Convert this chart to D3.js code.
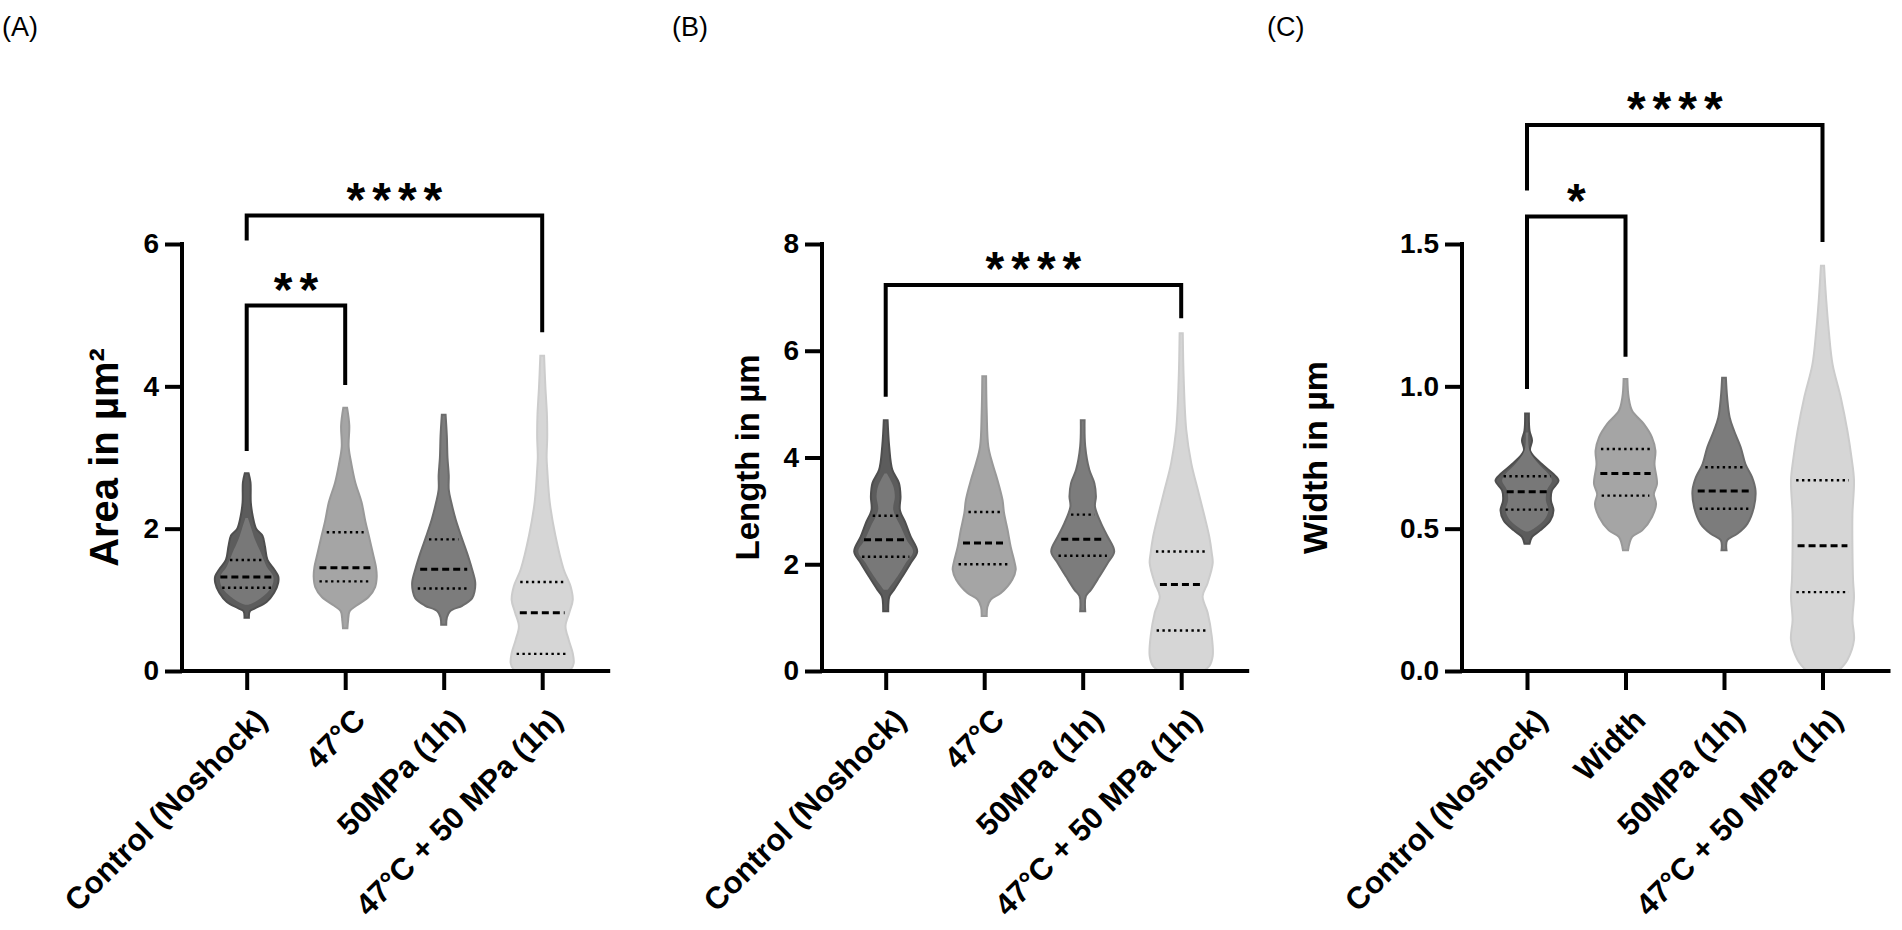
<!DOCTYPE html>
<html>
<head>
<meta charset="utf-8">
<script src="https://cdn.jsdelivr.net/npm/d3@7"></script>
<style>
  html, body { margin: 0; padding: 0; background: #fff; }
  svg { display: block; }
  text { font-family: "Liberation Sans", Arial, Helvetica, sans-serif; }
</style>
</head>
<body>
<svg id="chart" width="1902" height="930"></svg>
<script>
// ---------------- DATA ----------------
const panelLabels = ["(A)", "(B)", "(C)"];
const yTitles = ["Area in µm²", "Length in µm", "Width in µm"];

const categoriesA = ["Control (Noshock)", "47°C", "50MPa (1h)", "47°C + 50 MPa (1h)"];
const categoriesB = ["Control (Noshock)", "47°C", "50MPa (1h)", "47°C + 50 MPa (1h)"];
const categoriesC = ["Control (Noshock)", "Width", "50MPa (1h)", "47°C + 50 MPa (1h)"];

const yDomainA = [0, 6];
const yDomainB = [0, 8];
const yDomainC = [0, 1.5];
const yTicksA = [0, 2, 4, 6];
const yTicksB = [0, 2, 4, 6, 8];
const yTicksC = [0, 0.5, 1.0, 1.5];
const yTickLabelsA = ["0", "2", "4", "6"];
const yTickLabelsB = ["0", "2", "4", "6", "8"];
const yTickLabelsC = ["0.0", "0.5", "1.0", "1.5"];

// quartiles per group: [Q1, median, Q3]
const quartilesA = [[1.17, 1.32, 1.56], [1.26, 1.45, 1.95], [1.16, 1.43, 1.85], [0.24, 0.82, 1.25]];
const quartilesB = [[2.14, 2.46, 2.91], [2.00, 2.40, 2.98], [2.16, 2.47, 2.93], [0.76, 1.62, 2.24]];
const quartilesC = [[0.567, 0.630, 0.684], [0.616, 0.694, 0.780], [0.570, 0.632, 0.716], [0.277, 0.440, 0.670]];

// violin density profiles: [value, relative density (max = 1)]
const profilesA = [
  [[2.78,0.06],[2.65,0.12],[2.37,0.13],[2.18,0.19],[2.0,0.3],[1.9,0.5],[1.75,0.58],[1.56,0.66],[1.43,0.87],[1.33,1.0],[1.24,1.0],[1.1,0.87],[0.97,0.63],[0.88,0.26],[0.84,0.1],[0.75,0.07]],
  [[3.70,0.06],[3.45,0.13],[3.15,0.11],[2.9,0.2],[2.65,0.32],[2.37,0.52],[2.1,0.64],[1.9,0.75],[1.65,0.88],[1.45,0.98],[1.32,1.0],[1.18,0.95],[1.04,0.74],[0.92,0.36],[0.84,0.14],[0.7,0.09],[0.6,0.07]],
  [[3.60,0.06],[3.3,0.1],[3.0,0.12],[2.75,0.16],[2.55,0.16],[2.37,0.24],[2.13,0.38],[1.9,0.55],[1.66,0.74],[1.43,0.9],[1.25,1.0],[1.12,0.98],[1.02,0.9],[0.92,0.6],[0.84,0.2],[0.75,0.1],[0.65,0.08]],
  [[4.43,0.06],[4.0,0.1],[3.6,0.15],[3.3,0.16],[3.0,0.14],[2.83,0.16],[2.37,0.24],[1.9,0.42],[1.43,0.68],[1.19,0.9],[1.0,0.97],[0.82,0.86],[0.63,0.74],[0.44,0.84],[0.25,0.97],[0.11,1.0],[0.03,0.92],[0,0.8]]
];
const profilesB = [
  [[4.70,0.06],[4.21,0.11],[3.77,0.21],[3.52,0.42],[3.27,0.47],[3.02,0.45],[2.77,0.63],[2.52,0.79],[2.24,1.0],[2.02,0.79],[1.77,0.53],[1.52,0.26],[1.40,0.12],[1.12,0.08]],
  [[5.52,0.06],[4.84,0.08],[4.21,0.13],[3.89,0.26],[3.58,0.42],[3.21,0.58],[2.96,0.63],[2.65,0.74],[2.33,0.84],[2.02,0.97],[1.9,1.0],[1.71,0.89],[1.46,0.53],[1.34,0.21],[1.2,0.1],[1.03,0.08]],
  [[4.70,0.06],[4.21,0.08],[3.77,0.21],[3.52,0.37],[3.27,0.42],[3.08,0.39],[2.77,0.58],[2.52,0.79],[2.24,1.0],[2.02,0.79],[1.77,0.53],[1.52,0.26],[1.40,0.1],[1.12,0.08]],
  [[6.33,0.05],[5.46,0.08],[4.52,0.16],[3.89,0.32],[3.39,0.53],[2.9,0.74],[2.52,0.89],[2.21,0.97],[2.02,1.0],[1.65,0.84],[1.40,0.68],[1.09,0.84],[0.65,0.97],[0.28,1.0],[0.09,0.89],[0,0.7]]
];
const profilesC = [
  [[0.905,0.06],[0.844,0.08],[0.81,0.16],[0.774,0.1],[0.727,0.47],[0.692,0.84],[0.669,1.0],[0.634,0.79],[0.599,0.76],[0.564,0.84],[0.529,0.74],[0.494,0.42],[0.471,0.16],[0.447,0.08]],
  [[1.026,0.06],[0.961,0.1],[0.914,0.21],[0.868,0.58],[0.821,0.84],[0.774,0.95],[0.727,0.92],[0.657,1.0],[0.622,0.9],[0.587,0.97],[0.541,0.84],[0.494,0.53],[0.471,0.21],[0.424,0.08]],
  [[1.03,0.06],[0.961,0.1],[0.891,0.18],[0.844,0.32],[0.786,0.53],[0.727,0.68],[0.681,0.89],[0.634,1.0],[0.576,0.95],[0.517,0.74],[0.482,0.42],[0.459,0.1],[0.424,0.08]],
  [[1.424,0.05],[1.3,0.12],[1.194,0.2],[1.077,0.32],[0.961,0.58],[0.844,0.79],[0.75,0.92],[0.669,1.0],[0.552,0.95],[0.436,0.95],[0.319,0.97],[0.261,1.0],[0.179,0.95],[0.109,1.0],[0.039,0.79],[0,0.5]]
];
// lighter inner core of the control violins
const innerA = [[2.15,0.04],[2.0,0.15],[1.85,0.26],[1.66,0.45],[1.47,0.63],[1.33,0.84],[1.21,0.82],[1.07,0.58],[0.97,0.26],[0.93,0.05]];
const innerB = [[3.7,0.04],[3.46,0.24],[3.27,0.29],[3.02,0.24],[2.71,0.47],[2.46,0.66],[2.24,0.87],[2.02,0.63],[1.77,0.37],[1.52,0.06]];
const innerC = [[0.838,0.04],[0.774,0.08],[0.727,0.37],[0.692,0.68],[0.669,0.79],[0.634,0.63],[0.599,0.6],[0.564,0.68],[0.529,0.53],[0.5,0.21],[0.49,0.04]];

// significance brackets: groups compared, bar level, leg ends (data units), label
const bracketsA = [
  { from: 0, to: 3, level: 6.40, leftEnd: 6.05, rightEnd: 4.76, label: "****" },
  { from: 0, to: 1, level: 5.135, leftEnd: 3.09, rightEnd: 4.02, label: "**" }
];
const bracketsB = [
  { from: 0, to: 3, level: 7.23, leftEnd: 5.14, rightEnd: 6.61, label: "****" }
];
const bracketsC = [
  { from: 0, to: 3, level: 1.918, leftEnd: 1.688, rightEnd: 1.507, label: "****" },
  { from: 0, to: 1, level: 1.597, leftEnd: 0.991, rightEnd: 1.104, label: "*" }
];

// ---------------- STYLE / LAYOUT ----------------
const groupFill   = ["#5c5c5c", "#a5a5a5", "#7c7c7c", "#d6d6d6"];
const groupStroke = ["#4e4e4e", "#999999", "#6c6c6c", "#cccccc"];
const innerFill = "#787878";

const panels = [
  { label: panelLabels[0], labelX: 2,    title: yTitles[0], titleSize: 40, titleX: 104,
    axisX: 182, firstX: 246.7, cats: categoriesA, domain: yDomainA, ticks: yTicksA, tickLabels: yTickLabelsA,
    quart: quartilesA, prof: profilesA, inner: innerA, brackets: bracketsA },
  { label: panelLabels[1], labelX: 672,  title: yTitles[1], titleSize: 33, titleX: 747,
    axisX: 822, firstX: 885.7, cats: categoriesB, domain: yDomainB, ticks: yTicksB, tickLabels: yTickLabelsB,
    quart: quartilesB, prof: profilesB, inner: innerB, brackets: bracketsB },
  { label: panelLabels[2], labelX: 1267, title: yTitles[2], titleSize: 34, titleX: 1315,
    axisX: 1462, firstX: 1527, cats: categoriesC, domain: yDomainC, ticks: yTicksC, tickLabels: yTickLabelsC,
    quart: quartilesC, prof: profilesC, inner: innerC, brackets: bracketsC }
];
const step = 98.5;
const yBottom = 671, yTop = 244;
const halfMax = 31.5;
const axisW = 4;
const tickLen = 17;

const svg = d3.select("#chart");

panels.forEach(p => {
  const g = svg.append("g");
  const x = d3.scalePoint().domain(p.cats).range([p.firstX, p.firstX + 3 * step]);
  const y = d3.scaleLinear().domain(p.domain).range([yBottom, yTop]);
  const wScale = d3.scaleLinear().domain([0, 1]).range([0, halfMax]);
  const xEnd = p.firstX + 3 * step + 68;

  // panel label
  g.append("text").attr("x", p.labelX).attr("y", 36)
    .attr("font-size", 27).attr("font-weight", 400).attr("fill", "#000").text(p.label);

  // violins
  p.cats.forEach((c, i) => {
    const cx = x(c);
    const prof = p.prof[i].slice().sort((a, b) => a[0] - b[0]);
    const area = d3.area()
      .curve(d3.curveCatmullRom.alpha(0.5))
      .y(d => y(d[0]))
      .x0(d => cx - wScale(d[1]))
      .x1(d => cx + wScale(d[1]));
    g.append("path").attr("d", area(prof))
      .attr("fill", groupFill[i]).attr("stroke", groupStroke[i]).attr("stroke-width", 2);
    if (i === 0) {
      const inn = p.inner.slice().sort((a, b) => a[0] - b[0]);
      g.append("path").attr("d", area(inn)).attr("fill", innerFill).attr("stroke", "none");
    }
    // quartile lines
    const dens = d3.scaleLinear().domain(prof.map(d => d[0])).range(prof.map(d => d[1])).clamp(true);
    p.quart[i].forEach((q, k) => {
      const hw = Math.max(0, wScale(dens(q)) * 0.9 - 2);
      const isMed = k === 1;
      g.append("line")
        .attr("x1", cx - hw).attr("x2", cx + hw)
        .attr("y1", y(q)).attr("y2", y(q))
        .attr("stroke", "#000")
        .attr("stroke-width", isMed ? 3 : 2.4)
        .attr("stroke-dasharray", isMed ? "7,4" : "2.4,3.4");
    });
  });

  // y axis
  const yAxis = d3.axisLeft(y).tickValues(p.ticks)
    .tickFormat((d, i) => p.tickLabels[i]).tickSize(tickLen).tickPadding(6);
  const ya = g.append("g").attr("transform", `translate(${p.axisX},0)`).call(yAxis);
  ya.select(".domain").remove();
  ya.selectAll(".tick line").attr("stroke", "#000").attr("stroke-width", axisW);
  ya.selectAll(".tick text").attr("font-size", 28).attr("font-weight", 700).attr("fill", "#000")
    .attr("font-family", '"Liberation Sans", Arial, sans-serif');
  g.append("line").attr("x1", p.axisX).attr("x2", p.axisX)
    .attr("y1", y(p.domain[1]) - axisW / 2).attr("y2", yBottom + axisW / 2)
    .attr("stroke", "#000").attr("stroke-width", axisW);

  // x axis
  g.append("line").attr("x1", p.axisX - axisW / 2).attr("x2", xEnd)
    .attr("y1", yBottom).attr("y2", yBottom)
    .attr("stroke", "#000").attr("stroke-width", axisW);
  const xAxis = d3.axisBottom(x).tickSize(tickLen + 2).tickFormat("");
  const xa = g.append("g").attr("transform", `translate(0,${yBottom})`).call(xAxis);
  xa.select(".domain").remove();
  xa.selectAll(".tick line").attr("stroke", "#000").attr("stroke-width", axisW);

  // x labels rotated
  p.cats.forEach(c => {
    g.append("text")
      .attr("transform", `translate(${x(c) + 22},${722}) rotate(-45)`)
      .attr("text-anchor", "end")
      .attr("font-size", 31).attr("font-weight", 700).attr("fill", "#000")
      .text(c);
  });

  // y title
  const yMid = (yTop + yBottom) / 2;
  g.append("text")
    .attr("transform", `translate(${p.titleX + 0.358 * p.titleSize},${yMid}) rotate(-90)`)
    .attr("text-anchor", "middle")
    .attr("font-size", p.titleSize).attr("font-weight", 700).attr("fill", "#000")
    .text(p.title);

  // brackets
  p.brackets.forEach(b => {
    const x1 = x(p.cats[b.from]), x2 = x(p.cats[b.to]);
    const path = d3.path();
    path.moveTo(x1, y(b.leftEnd));
    path.lineTo(x1, y(b.level));
    path.lineTo(x2, y(b.level));
    path.lineTo(x2, y(b.rightEnd));
    g.append("path").attr("d", path.toString())
      .attr("fill", "none").attr("stroke", "#000").attr("stroke-width", axisW)
      .attr("stroke-linejoin", "miter");
    const fs = 48, ls = 7;
    g.append("text")
      .attr("x", (x1 + x2) / 2 + ls / 2)
      .attr("y", y(b.level) - 27 + 0.565 * fs)
      .attr("text-anchor", "middle")
      .attr("font-size", fs).attr("font-weight", 700)
      .attr("letter-spacing", ls).attr("fill", "#000")
      .text(b.label);
  });
});
</script>
</body>
</html>
